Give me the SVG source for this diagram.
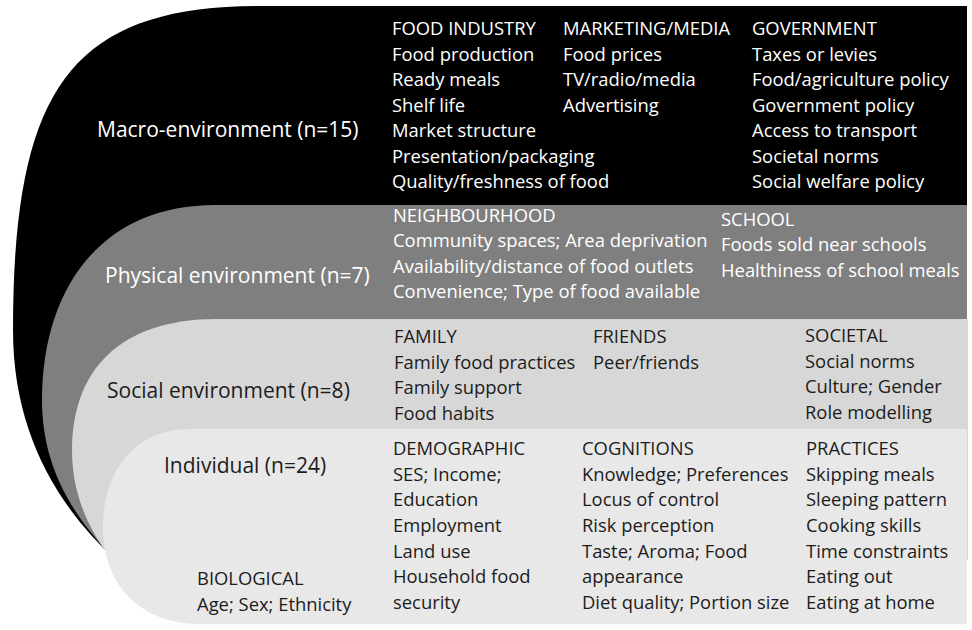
<svg xmlns="http://www.w3.org/2000/svg" width="972" height="630" viewBox="0 0 972 630">
<style>
text { font-family: "Open Sans", "Liberation Sans", sans-serif; font-size: 18.4px; }
.lbl { font-size: 21px; }
.w { fill: #ffffff; }
.k { fill: #1c1c1c; }
</style>
<rect x="0" y="0" width="972" height="630" fill="#ffffff"/>
<g id="macro">
  <path d="M967,6 L260,6 C70,6 13,90 13,330 C13,430 55,505 118,562 L967,562 Z" fill="#000000"/>
  <text class="lbl w" x="97" y="137">Macro-environment (n=15)</text>
  <text class="w" x="392" y="35">FOOD INDUSTRY</text>
  <text class="w" x="392" y="60.5">Food production</text>
  <text class="w" x="392" y="86">Ready meals</text>
  <text class="w" x="392" y="111.5">Shelf life</text>
  <text class="w" x="392" y="137">Market structure</text>
  <text class="w" x="392" y="162.5">Presentation/packaging</text>
  <text class="w" x="392" y="188">Quality/freshness of food</text>
  <text class="w" x="563" y="35">MARKETING/MEDIA</text>
  <text class="w" x="563" y="60.5">Food prices</text>
  <text class="w" x="563" y="86">TV/radio/media</text>
  <text class="w" x="563" y="111.5">Advertising</text>
  <text class="w" x="752" y="35">GOVERNMENT</text>
  <text class="w" x="752" y="60.5">Taxes or levies</text>
  <text class="w" x="752" y="86">Food/agriculture policy</text>
  <text class="w" x="752" y="111.5">Government policy</text>
  <text class="w" x="752" y="137">Access to transport</text>
  <text class="w" x="752" y="162.5">Societal norms</text>
  <text class="w" x="752" y="188">Social welfare policy</text>
</g>
<g id="physical">
  <path d="M967,205 L215,205 C100,205 42,290 42,400 C42,462 68,512 114,558 L967,558 Z" fill="#7f7f7f"/>
  <text class="lbl w" x="105" y="283">Physical environment (n=7)</text>
  <text class="w" x="393" y="221.5">NEIGHBOURHOOD</text>
  <text class="w" x="393" y="247">Community spaces; Area deprivation</text>
  <text class="w" x="393" y="272.5">Availability/distance of food outlets</text>
  <text class="w" x="393" y="298">Convenience; Type of food available</text>
  <text class="w" x="721" y="225.5">SCHOOL</text>
  <text class="w" x="721" y="251">Foods sold near schools</text>
  <text class="w" x="721" y="276.5">Healthiness of school meals</text>
</g>
<g id="social">
  <path d="M968,319 L217,319 C120,319 72,370 72,450 C72,490 85,525 112,560 L968,560 Z" fill="#d7d7d7"/>
  <text class="lbl k" x="107" y="398">Social environment (n=8)</text>
  <text class="k" x="394" y="343">FAMILY</text>
  <text class="k" x="394" y="368.5">Family food practices</text>
  <text class="k" x="394" y="394">Family support</text>
  <text class="k" x="394" y="419.5">Food habits</text>
  <text class="k" x="593" y="343">FRIENDS</text>
  <text class="k" x="593" y="368.5">Peer/friends</text>
  <text class="k" x="805" y="342">SOCIETAL</text>
  <text class="k" x="805" y="367.5">Social norms</text>
  <text class="k" x="805" y="393">Culture; Gender</text>
  <text class="k" x="805" y="418.5">Role modelling</text>
</g>
<g id="individual">
  <path d="M967,429 L190,429 C135,429 103,470 103,527 C103,585 140,624 200,624 L967,624 Z" fill="#e8e8e8"/>
  <text class="lbl k" x="164" y="473">Individual (n=24)</text>
  <text class="k" x="197" y="585">BIOLOGICAL</text>
  <text class="k" x="197" y="611">Age; Sex; Ethnicity</text>
  <text class="k" x="393" y="455">DEMOGRAPHIC</text>
  <text class="k" x="393" y="480.7">SES; Income;</text>
  <text class="k" x="393" y="506.4">Education</text>
  <text class="k" x="393" y="532">Employment</text>
  <text class="k" x="393" y="557.7">Land use</text>
  <text class="k" x="393" y="583.4">Household food</text>
  <text class="k" x="393" y="609">security</text>
  <text class="k" x="582" y="455">COGNITIONS</text>
  <text class="k" x="582" y="480.7">Knowledge; Preferences</text>
  <text class="k" x="582" y="506.4">Locus of control</text>
  <text class="k" x="582" y="532">Risk perception</text>
  <text class="k" x="582" y="557.7">Taste; Aroma; Food</text>
  <text class="k" x="582" y="583.4">appearance</text>
  <text class="k" x="582" y="609">Diet quality; Portion size</text>
  <text class="k" x="806" y="455">PRACTICES</text>
  <text class="k" x="806" y="480.7">Skipping meals</text>
  <text class="k" x="806" y="506.4">Sleeping pattern</text>
  <text class="k" x="806" y="532">Cooking skills</text>
  <text class="k" x="806" y="557.7">Time constraints</text>
  <text class="k" x="806" y="583.4">Eating out</text>
  <text class="k" x="806" y="609">Eating at home</text>
</g>
</svg>
